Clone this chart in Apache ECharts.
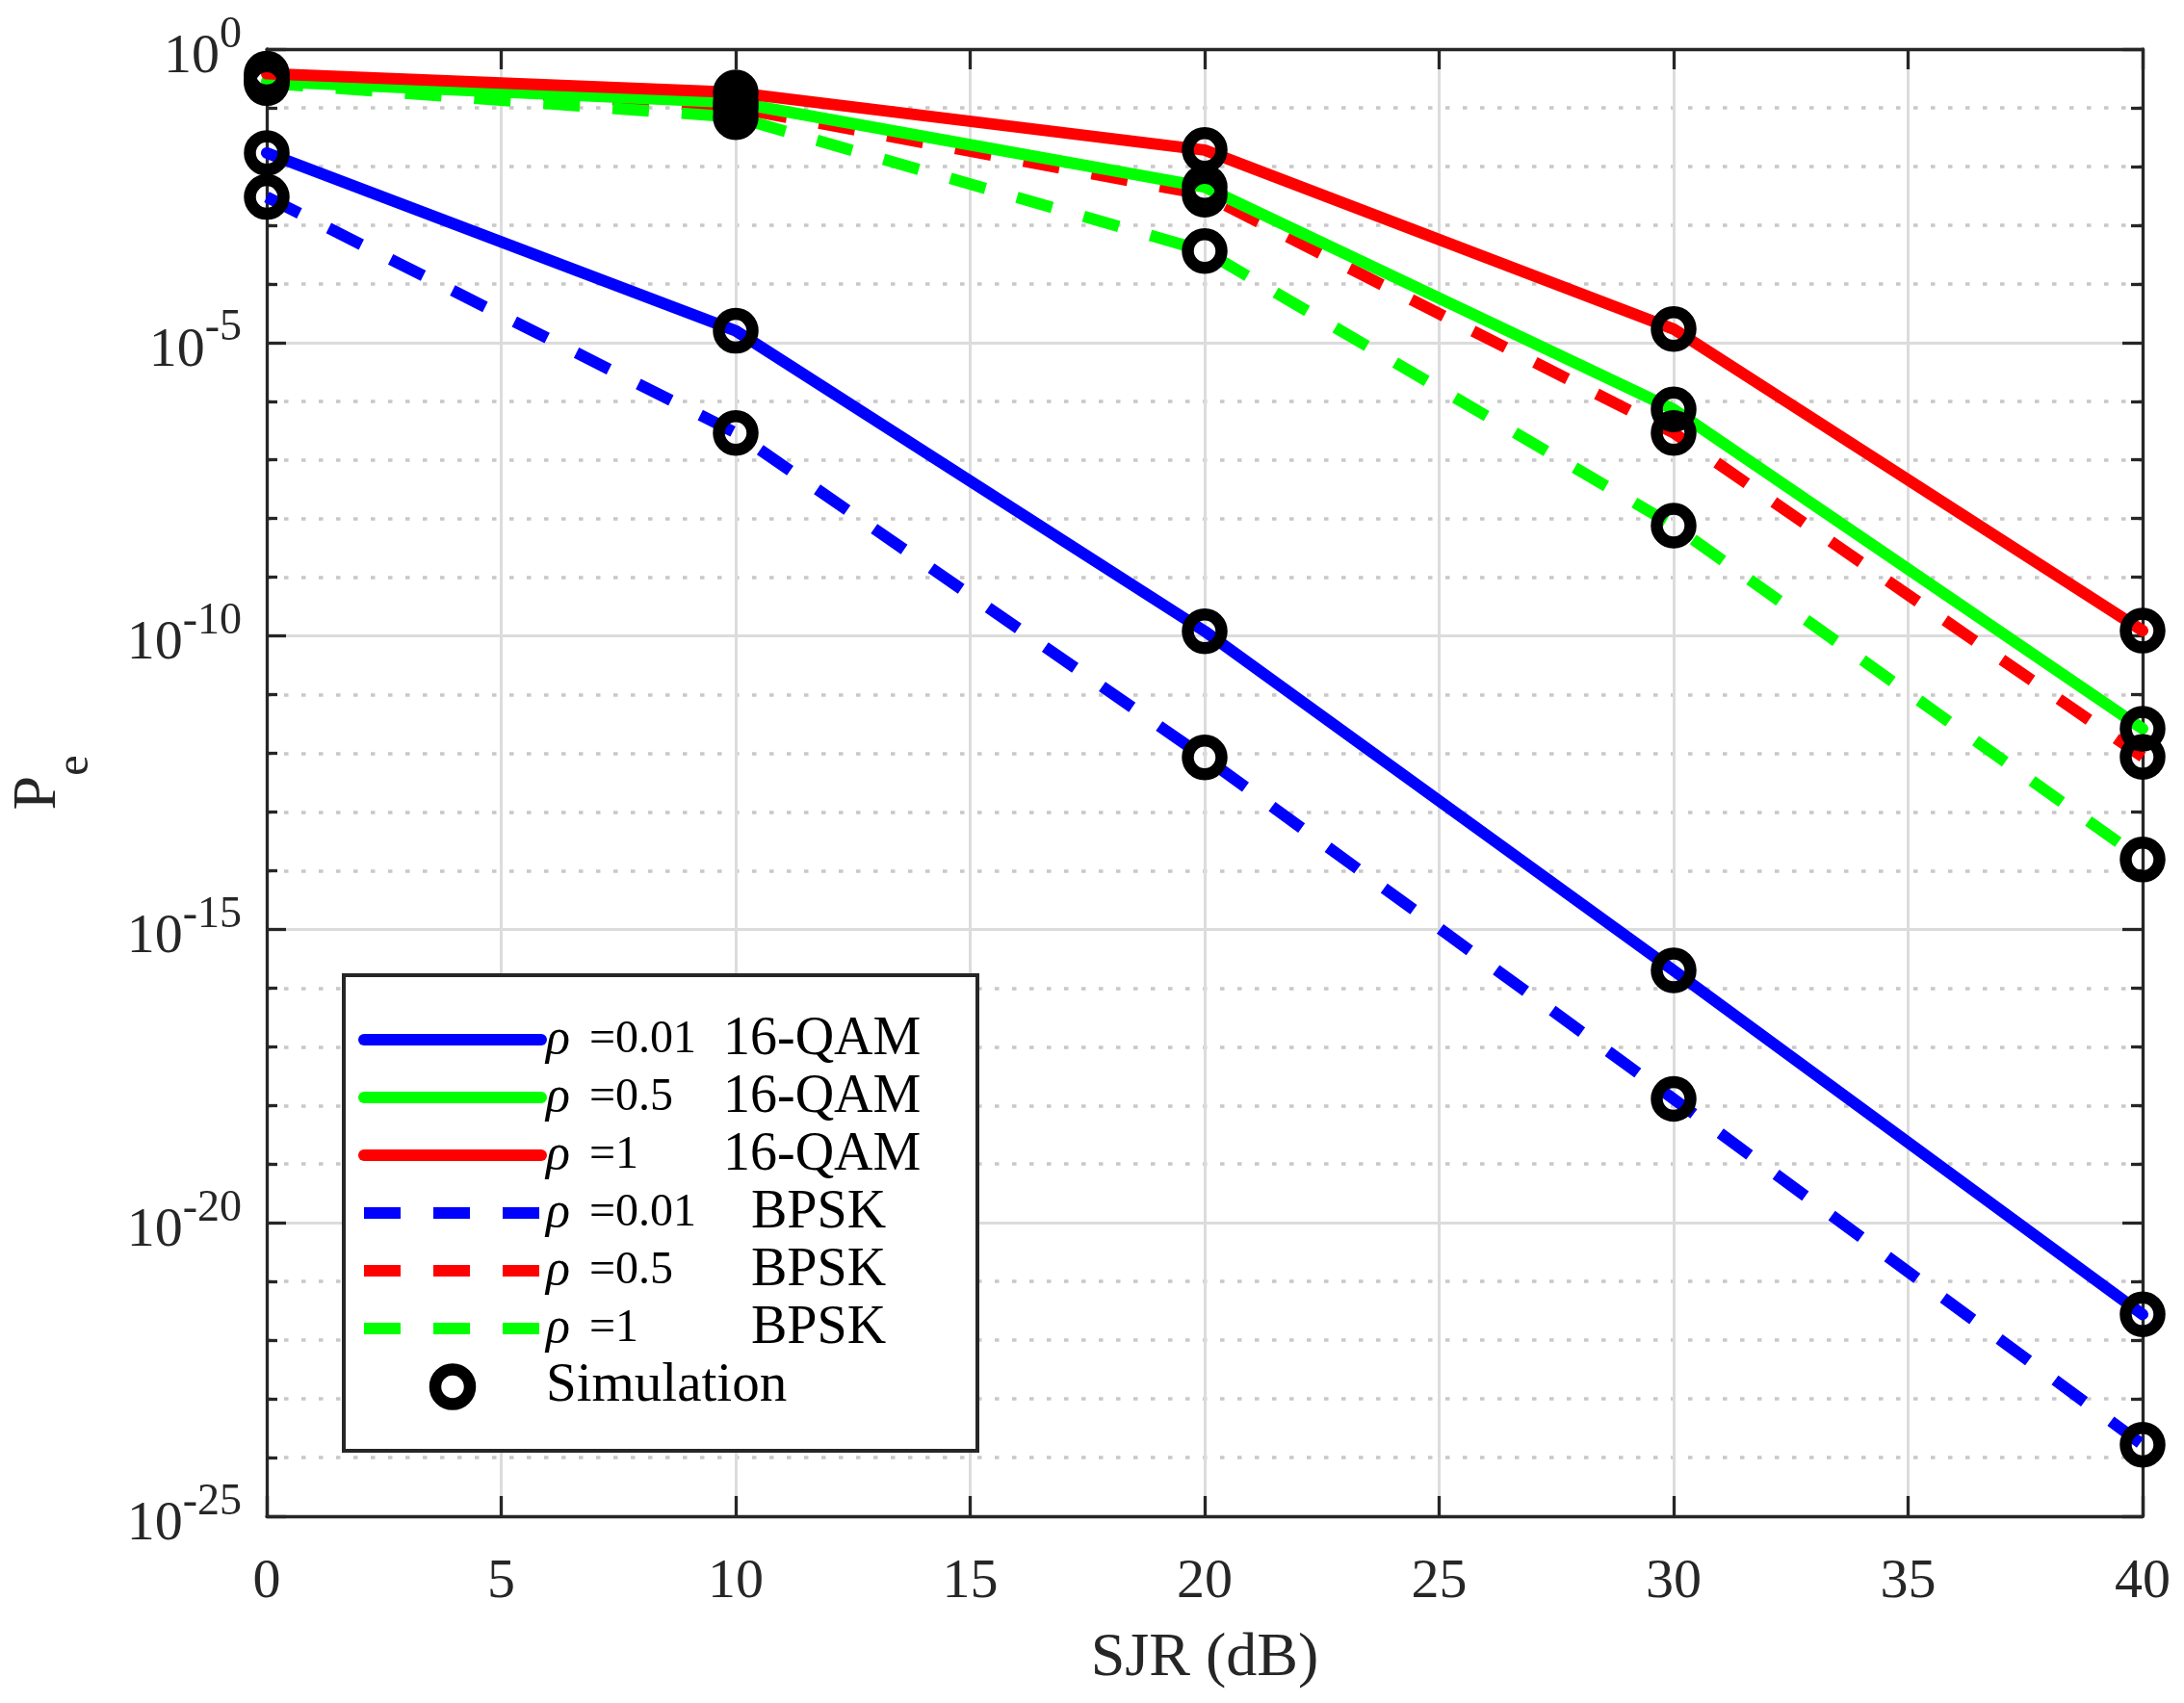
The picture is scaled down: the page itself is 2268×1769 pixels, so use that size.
<!DOCTYPE html>
<html>
<head>
<meta charset="utf-8">
<script src="https://cdn.jsdelivr.net/npm/echarts@6/dist/echarts.min.js"></script>
<style>
html,body{margin:0;padding:0;background:#fff;}
#chart{width:2268px;height:1769px;}
</style>
</head>
<body>
<div id="chart"></div>
<script>
// ---- data (exponents of Pe, i.e. log10(Pe)) ----
const sjr = [0, 10, 20, 30, 40];
const log10Pe_qam_rho001  = [-1.77, -4.80, -9.92, -15.70, -21.56];
const log10Pe_qam_rho05   = [-0.55, -0.91, -2.35, -6.14, -11.58];
const log10Pe_qam_rho1    = [-0.42, -0.74, -1.72, -4.77, -9.91];
const log10Pe_bpsk_rho001 = [-2.52, -6.54, -12.07, -17.89, -23.78];
const log10Pe_bpsk_rho05  = [-0.46, -1.00, -2.48, -6.54, -12.06];
const log10Pe_bpsk_rho1   = [-0.58, -1.16, -3.44, -8.12, -13.81];
const xTicks = [0, 5, 10, 15, 20, 25, 30, 35, 40];
const yTickExponents = [0, -5, -10, -15, -20, -25];
const seriesNames = [
  'ρ =0.01 16-QAM', 'ρ =0.5 16-QAM', 'ρ =1 16-QAM',
  'ρ =0.01 BPSK', 'ρ =0.5 BPSK', 'ρ =1 BPSK'
];
const simName = 'Simulation';

const FONT = 'Liberation Serif';
const AX = '#262626';
const BLUE = '#0000ff', GREEN = '#00ff00', RED = '#ff0000';
const DASH = [38, 34];
const LW = 12;

function pts(arr) { return sjr.map((x, i) => [x, arr[i]]); }

const curves = [
  {name: seriesNames[3], data: log10Pe_bpsk_rho001, color: BLUE,  dashed: true},
  {name: seriesNames[4], data: log10Pe_bpsk_rho05,  color: RED,   dashed: true},
  {name: seriesNames[5], data: log10Pe_bpsk_rho1,   color: GREEN, dashed: true},
  {name: seriesNames[0], data: log10Pe_qam_rho001,  color: BLUE,  dashed: false},
  {name: seriesNames[1], data: log10Pe_qam_rho05,   color: GREEN, dashed: false},
  {name: seriesNames[2], data: log10Pe_qam_rho1,    color: RED,   dashed: false}
];

function lineStyleOf(c) {
  return {color: c.color, width: LW, type: c.dashed ? DASH : 'solid',
          cap: c.dashed ? 'butt' : 'round', join: 'round', opacity: 1};
}

const series = curves.map((c, k) => ({
  name: c.name,
  type: 'line',
  xAxisIndex: 0, yAxisIndex: 0,
  data: pts(c.data),
  symbol: 'none',
  z: 3 + k,
  itemStyle: {color: c.color},
  lineStyle: lineStyleOf(c)
}));

const simData = [];
[log10Pe_qam_rho001, log10Pe_qam_rho05, log10Pe_qam_rho1,
 log10Pe_bpsk_rho001, log10Pe_bpsk_rho05, log10Pe_bpsk_rho1].forEach(arr => {
  sjr.forEach((x, i) => simData.push([x, arr[i]]));
});
const simItemStyle = {color: 'rgba(0,0,0,0)', borderColor: '#000000', borderWidth: 12.5, opacity: 1};
series.push({
  name: simName,
  type: 'scatter',
  xAxisIndex: 0, yAxisIndex: 0,
  data: simData,
  symbol: 'circle',
  symbolSize: 35,
  z: 20,
  itemStyle: simItemStyle,
  emphasis: {disabled: true}
});

const legendData = seriesNames.map(n => {
  const c = curves.find(cc => cc.name === n);
  return {name: n, itemStyle: {color: 'rgba(0,0,0,0)', borderWidth: 0, opacity: 0},
          lineStyle: lineStyleOf(c)};
}).concat([{name: simName, itemStyle: simItemStyle}]);

const chart = echarts.init(document.getElementById('chart'), null, {renderer: 'canvas'});

const baseAxisX = {
  type: 'value', min: xTicks[0], max: xTicks[xTicks.length - 1], interval: 5
};
const baseAxisY = {
  type: 'value', min: yTickExponents[yTickExponents.length - 1], max: yTickExponents[0], interval: 5
};

chart.setOption({
  animation: false,
  backgroundColor: '#ffffff',
  grid: {left: 276, right: 43, top: 51, bottom: 194, containLabel: false},
  legend: {
    data: legendData,
    orient: 'vertical',
    left: 357, top: 1013,
    itemWidth: 184, itemHeight: 36, itemGap: 4, itemTextGap: 2,
    padding: [39, 15, 38, 15],
    borderColor: AX, borderWidth: 4, borderRadius: 0,
    backgroundColor: '#ffffff',
    selectedMode: false,
    align: 'left',
    lineStyle: {width: LW},
    formatter: function (name) {
      if (name === simName) return '{sim|' + name + '}';
      const p = name.split(' ');
      const bp = p[2] === 'BPSK';
      return '{r|' + p[0] + '}{' + (bp ? 'v2' : 'v1') + '|' + p[1] + '}{' + (bp ? 'm2' : 'm1') + '|' + p[2] + '}';
    },
    textStyle: {
      color: '#000', fontFamily: FONT, fontSize: 36, lineHeight: 36,
      rich: {
        r:  {fontFamily: FONT, fontStyle: 'italic', fontSize: 52, width: 45, lineHeight: 36, color: '#000'},
        v1: {fontFamily: FONT, fontSize: 48, width: 139, lineHeight: 36, color: '#000'},
        v2: {fontFamily: FONT, fontSize: 48, width: 168, lineHeight: 36, color: '#000'},
        m1: {fontFamily: FONT, fontSize: 56, width: 249, lineHeight: 36, color: '#000'},
        m2: {fontFamily: FONT, fontSize: 56, width: 220, lineHeight: 36, color: '#000'},
        sim:{fontFamily: FONT, fontSize: 57, width: 433, lineHeight: 36, color: '#000'}
      }
    }
  },
  xAxis: [
    Object.assign({}, baseAxisX, {
      position: 'bottom',
      name: 'SJR (dB)', nameLocation: 'middle', nameGap: 116,
      nameTextStyle: {fontFamily: FONT, fontSize: 64, color: AX},
      axisLine: {show: true, onZero: false, lineStyle: {color: AX, width: 3.3}},
      axisTick: {show: true, inside: true, length: 21, lineStyle: {color: AX, width: 3.3}},
      axisLabel: {show: true, margin: 40, fontFamily: FONT, fontSize: 58, color: AX},
      splitLine: {show: true, lineStyle: {color: '#dcdcdc', width: 3, type: 'solid'}},
      minorTick: {show: false}, minorSplitLine: {show: false}
    }),
    Object.assign({}, baseAxisX, {
      position: 'top',
      axisLine: {show: true, onZero: false, lineStyle: {color: AX, width: 3.3}},
      axisTick: {show: true, inside: true, length: 21, lineStyle: {color: AX, width: 3.3}},
      axisLabel: {show: false},
      splitLine: {show: false}
    })
  ],
  yAxis: [
    Object.assign({}, baseAxisY, {
      position: 'left',
      name: '{p|P}{e|e}', nameLocation: 'middle', nameGap: 175, nameRotate: 90,
      nameTextStyle: {
        fontFamily: FONT, color: AX,
        rich: {
          p: {fontFamily: FONT, fontSize: 64, color: AX, verticalAlign: 'bottom', padding: [0, 0, 30, 0]},
          e: {fontFamily: FONT, fontSize: 48, color: AX, verticalAlign: 'bottom'}
        }
      },
      axisLine: {show: true, onZero: false, lineStyle: {color: AX, width: 3.3}},
      axisTick: {show: true, inside: true, length: 20, lineStyle: {color: AX, width: 3.3}},
      minorTick: {show: true, splitNumber: 5, length: 11, lineStyle: {color: AX, width: 3.3}},
      axisLabel: {
        show: true, margin: 26,
        formatter: function (v) { return '{b|10}{s|' + v + '}'; },
        rich: {
          b: {fontFamily: FONT, fontSize: 58, color: AX, verticalAlign: 'bottom'},
          s: {fontFamily: FONT, fontSize: 46, color: AX, verticalAlign: 'bottom', padding: [0, 0, 29, 0]}
        }
      },
      splitLine: {show: true, lineStyle: {color: '#dcdcdc', width: 3, type: 'solid'}},
      minorSplitLine: {show: true, lineStyle: {color: '#c8c8c8', width: 3.5, type: [4.5, 13.5]}}
    }),
    Object.assign({}, baseAxisY, {
      position: 'right',
      axisLine: {show: true, onZero: false, lineStyle: {color: AX, width: 3.3}},
      axisTick: {show: true, inside: true, length: 21, lineStyle: {color: AX, width: 3.3}},
      minorTick: {show: true, splitNumber: 5, length: 12, lineStyle: {color: AX, width: 3.3}},
      axisLabel: {show: false},
      splitLine: {show: false}
    })
  ],
  series: series
});
</script>
</body>
</html>
